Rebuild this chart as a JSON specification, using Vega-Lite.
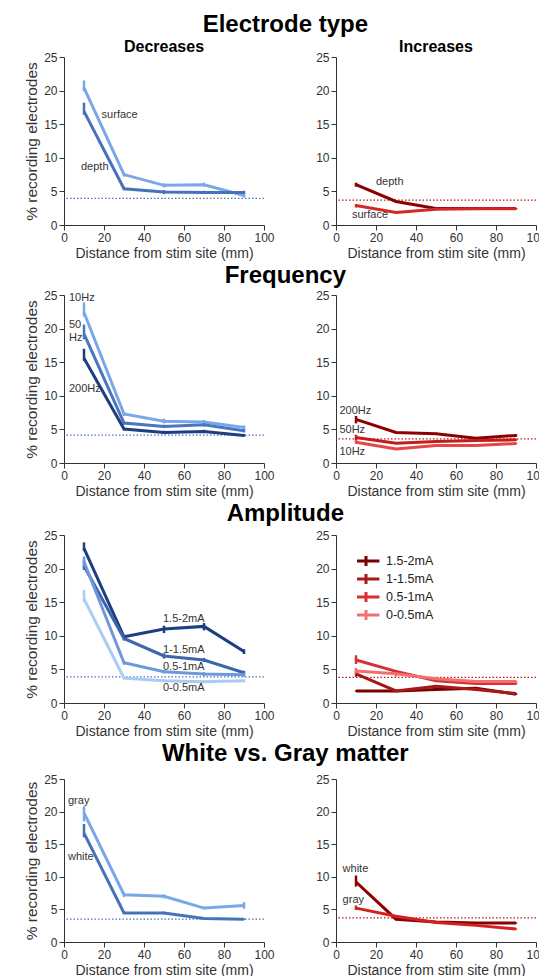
{
  "$schema": "https://vega.github.io/schema/vega-lite/v6.json",
  "padding": {"left": 24, "top": 13, "right": 0, "bottom": 0},
  "background": "white",
  "datasets": {
    "pts": [
      {"p": "e_dec", "s": "surface", "x": 10, "y": 20.4, "lo": 19.9, "hi": 21.5},
      {"p": "e_dec", "s": "surface", "x": 30, "y": 7.5, "lo": 7.2, "hi": 7.8},
      {"p": "e_dec", "s": "surface", "x": 50, "y": 5.9, "lo": 5.6, "hi": 6.2},
      {"p": "e_dec", "s": "surface", "x": 70, "y": 6.0, "lo": 5.7, "hi": 6.3},
      {"p": "e_dec", "s": "surface", "x": 90, "y": 4.4, "lo": 4.1, "hi": 4.7},
      {"p": "e_dec", "s": "depth", "x": 10, "y": 16.9, "lo": 16.4, "hi": 18.2},
      {"p": "e_dec", "s": "depth", "x": 30, "y": 5.4, "lo": 5.2, "hi": 5.6},
      {"p": "e_dec", "s": "depth", "x": 50, "y": 4.9, "lo": 4.6, "hi": 5.2},
      {"p": "e_dec", "s": "depth", "x": 70, "y": 4.85, "lo": 4.6, "hi": 5.1},
      {"p": "e_dec", "s": "depth", "x": 90, "y": 4.85, "lo": 4.6, "hi": 5.1},
      {"p": "e_inc", "s": "depth", "x": 10, "y": 6.0, "lo": 5.7, "hi": 6.3},
      {"p": "e_inc", "s": "depth", "x": 30, "y": 3.5, "lo": 3.4, "hi": 3.6},
      {"p": "e_inc", "s": "depth", "x": 50, "y": 2.45, "lo": 2.35, "hi": 2.55},
      {"p": "e_inc", "s": "depth", "x": 70, "y": 2.45, "lo": 2.35, "hi": 2.55},
      {"p": "e_inc", "s": "depth", "x": 90, "y": 2.45, "lo": 2.35, "hi": 2.55},
      {"p": "e_inc", "s": "surface", "x": 10, "y": 2.9, "lo": 2.6, "hi": 3.1},
      {"p": "e_inc", "s": "surface", "x": 30, "y": 1.85, "lo": 1.75, "hi": 1.95},
      {"p": "e_inc", "s": "surface", "x": 50, "y": 2.35, "lo": 2.25, "hi": 2.45},
      {"p": "e_inc", "s": "surface", "x": 70, "y": 2.4, "lo": 2.3, "hi": 2.5},
      {"p": "e_inc", "s": "surface", "x": 90, "y": 2.4, "lo": 2.3, "hi": 2.5},
      {"p": "f_dec", "s": "10Hz", "x": 10, "y": 22.4, "lo": 21.8, "hi": 23.9},
      {"p": "f_dec", "s": "10Hz", "x": 30, "y": 7.3, "lo": 7.0, "hi": 7.6},
      {"p": "f_dec", "s": "10Hz", "x": 50, "y": 6.2, "lo": 5.9, "hi": 6.6},
      {"p": "f_dec", "s": "10Hz", "x": 70, "y": 6.1, "lo": 5.8, "hi": 6.4},
      {"p": "f_dec", "s": "10Hz", "x": 90, "y": 5.3, "lo": 4.9, "hi": 5.6},
      {"p": "f_dec", "s": "50Hz", "x": 10, "y": 19.2, "lo": 18.4, "hi": 20.6},
      {"p": "f_dec", "s": "50Hz", "x": 30, "y": 5.95, "lo": 5.7, "hi": 6.2},
      {"p": "f_dec", "s": "50Hz", "x": 50, "y": 5.45, "lo": 5.2, "hi": 5.7},
      {"p": "f_dec", "s": "50Hz", "x": 70, "y": 5.7, "lo": 5.45, "hi": 5.95},
      {"p": "f_dec", "s": "50Hz", "x": 90, "y": 4.8, "lo": 4.55, "hi": 5.05},
      {"p": "f_dec", "s": "200Hz", "x": 10, "y": 15.6, "lo": 15.2, "hi": 17.0},
      {"p": "f_dec", "s": "200Hz", "x": 30, "y": 5.05, "lo": 4.85, "hi": 5.25},
      {"p": "f_dec", "s": "200Hz", "x": 50, "y": 4.55, "lo": 4.3, "hi": 4.8},
      {"p": "f_dec", "s": "200Hz", "x": 70, "y": 4.7, "lo": 4.45, "hi": 4.95},
      {"p": "f_dec", "s": "200Hz", "x": 90, "y": 4.1, "lo": 3.9, "hi": 4.3},
      {"p": "f_inc", "s": "200Hz", "x": 10, "y": 6.5, "lo": 5.9, "hi": 7.0},
      {"p": "f_inc", "s": "200Hz", "x": 30, "y": 4.55, "lo": 4.4, "hi": 4.7},
      {"p": "f_inc", "s": "200Hz", "x": 50, "y": 4.35, "lo": 4.2, "hi": 4.5},
      {"p": "f_inc", "s": "200Hz", "x": 70, "y": 3.7, "lo": 3.55, "hi": 3.85},
      {"p": "f_inc", "s": "200Hz", "x": 90, "y": 4.1, "lo": 3.9, "hi": 4.3},
      {"p": "f_inc", "s": "50Hz", "x": 10, "y": 3.8, "lo": 3.4, "hi": 4.2},
      {"p": "f_inc", "s": "50Hz", "x": 30, "y": 2.95, "lo": 2.85, "hi": 3.05},
      {"p": "f_inc", "s": "50Hz", "x": 50, "y": 3.2, "lo": 3.1, "hi": 3.3},
      {"p": "f_inc", "s": "50Hz", "x": 70, "y": 3.35, "lo": 3.25, "hi": 3.45},
      {"p": "f_inc", "s": "50Hz", "x": 90, "y": 3.45, "lo": 3.3, "hi": 3.6},
      {"p": "f_inc", "s": "10Hz", "x": 10, "y": 3.1, "lo": 2.9, "hi": 3.4},
      {"p": "f_inc", "s": "10Hz", "x": 30, "y": 2.1, "lo": 2.0, "hi": 2.2},
      {"p": "f_inc", "s": "10Hz", "x": 50, "y": 2.6, "lo": 2.5, "hi": 2.7},
      {"p": "f_inc", "s": "10Hz", "x": 70, "y": 2.6, "lo": 2.5, "hi": 2.7},
      {"p": "f_inc", "s": "10Hz", "x": 90, "y": 2.9, "lo": 2.75, "hi": 3.05},
      {"p": "a_dec", "s": "1.5-2mA", "x": 10, "y": 23.0, "lo": 22.6, "hi": 23.9},
      {"p": "a_dec", "s": "1.5-2mA", "x": 30, "y": 9.85, "lo": 9.6, "hi": 10.1},
      {"p": "a_dec", "s": "1.5-2mA", "x": 50, "y": 11.0, "lo": 10.4, "hi": 11.5},
      {"p": "a_dec", "s": "1.5-2mA", "x": 70, "y": 11.4, "lo": 10.8, "hi": 11.9},
      {"p": "a_dec", "s": "1.5-2mA", "x": 90, "y": 7.65, "lo": 7.3, "hi": 8.0},
      {"p": "a_dec", "s": "1-1.5mA", "x": 10, "y": 20.4, "lo": 19.8, "hi": 21.2},
      {"p": "a_dec", "s": "1-1.5mA", "x": 30, "y": 9.6, "lo": 9.3, "hi": 9.9},
      {"p": "a_dec", "s": "1-1.5mA", "x": 50, "y": 7.0, "lo": 6.6, "hi": 7.4},
      {"p": "a_dec", "s": "1-1.5mA", "x": 70, "y": 6.4, "lo": 6.1, "hi": 6.7},
      {"p": "a_dec", "s": "1-1.5mA", "x": 90, "y": 4.5, "lo": 4.2, "hi": 4.8},
      {"p": "a_dec", "s": "0.5-1mA", "x": 10, "y": 21.0, "lo": 20.2, "hi": 21.8},
      {"p": "a_dec", "s": "0.5-1mA", "x": 30, "y": 6.0, "lo": 5.7, "hi": 6.3},
      {"p": "a_dec", "s": "0.5-1mA", "x": 50, "y": 4.65, "lo": 4.4, "hi": 4.9},
      {"p": "a_dec", "s": "0.5-1mA", "x": 70, "y": 4.3, "lo": 4.0, "hi": 4.6},
      {"p": "a_dec", "s": "0.5-1mA", "x": 90, "y": 4.2, "lo": 3.9, "hi": 4.5},
      {"p": "a_dec", "s": "0-0.5mA", "x": 10, "y": 15.5, "lo": 15.0, "hi": 16.8},
      {"p": "a_dec", "s": "0-0.5mA", "x": 30, "y": 3.7, "lo": 3.5, "hi": 3.9},
      {"p": "a_dec", "s": "0-0.5mA", "x": 50, "y": 3.3, "lo": 3.1, "hi": 3.5},
      {"p": "a_dec", "s": "0-0.5mA", "x": 70, "y": 3.15, "lo": 2.95, "hi": 3.35},
      {"p": "a_dec", "s": "0-0.5mA", "x": 90, "y": 3.3, "lo": 3.1, "hi": 3.5},
      {"p": "a_inc", "s": "1.5-2mA", "x": 10, "y": 1.8, "lo": 1.7, "hi": 1.9},
      {"p": "a_inc", "s": "1.5-2mA", "x": 30, "y": 1.8, "lo": 1.7, "hi": 1.9},
      {"p": "a_inc", "s": "1.5-2mA", "x": 50, "y": 2.0, "lo": 1.9, "hi": 2.1},
      {"p": "a_inc", "s": "1.5-2mA", "x": 70, "y": 2.2, "lo": 2.1, "hi": 2.3},
      {"p": "a_inc", "s": "1.5-2mA", "x": 90, "y": 1.3, "lo": 1.2, "hi": 1.4},
      {"p": "a_inc", "s": "1-1.5mA", "x": 10, "y": 4.35, "lo": 3.9, "hi": 4.9},
      {"p": "a_inc", "s": "1-1.5mA", "x": 30, "y": 1.8, "lo": 1.7, "hi": 1.9},
      {"p": "a_inc", "s": "1-1.5mA", "x": 50, "y": 2.5, "lo": 2.4, "hi": 2.6},
      {"p": "a_inc", "s": "1-1.5mA", "x": 70, "y": 2.0, "lo": 1.9, "hi": 2.1},
      {"p": "a_inc", "s": "1-1.5mA", "x": 90, "y": 1.4, "lo": 1.3, "hi": 1.5},
      {"p": "a_inc", "s": "0.5-1mA", "x": 10, "y": 6.4, "lo": 5.8, "hi": 7.1},
      {"p": "a_inc", "s": "0.5-1mA", "x": 30, "y": 4.7, "lo": 4.5, "hi": 4.9},
      {"p": "a_inc", "s": "0.5-1mA", "x": 50, "y": 3.3, "lo": 3.15, "hi": 3.45},
      {"p": "a_inc", "s": "0.5-1mA", "x": 70, "y": 2.9, "lo": 2.75, "hi": 3.05},
      {"p": "a_inc", "s": "0.5-1mA", "x": 90, "y": 2.9, "lo": 2.75, "hi": 3.05},
      {"p": "a_inc", "s": "0-0.5mA", "x": 10, "y": 4.75, "lo": 4.3, "hi": 5.2},
      {"p": "a_inc", "s": "0-0.5mA", "x": 30, "y": 4.35, "lo": 3.9, "hi": 4.9},
      {"p": "a_inc", "s": "0-0.5mA", "x": 50, "y": 3.6, "lo": 3.45, "hi": 3.75},
      {"p": "a_inc", "s": "0-0.5mA", "x": 70, "y": 3.2, "lo": 3.05, "hi": 3.35},
      {"p": "a_inc", "s": "0-0.5mA", "x": 90, "y": 3.2, "lo": 3.05, "hi": 3.35},
      {"p": "w_dec", "s": "gray", "x": 10, "y": 19.8, "lo": 18.5, "hi": 20.8},
      {"p": "w_dec", "s": "gray", "x": 30, "y": 7.25, "lo": 6.9, "hi": 7.6},
      {"p": "w_dec", "s": "gray", "x": 50, "y": 7.0, "lo": 6.7, "hi": 7.3},
      {"p": "w_dec", "s": "gray", "x": 70, "y": 5.2, "lo": 5.0, "hi": 5.4},
      {"p": "w_dec", "s": "gray", "x": 90, "y": 5.6, "lo": 5.1, "hi": 6.1},
      {"p": "w_dec", "s": "white", "x": 10, "y": 16.7, "lo": 16.05, "hi": 18.1},
      {"p": "w_dec", "s": "white", "x": 30, "y": 4.45, "lo": 4.3, "hi": 4.6},
      {"p": "w_dec", "s": "white", "x": 50, "y": 4.45, "lo": 4.25, "hi": 4.65},
      {"p": "w_dec", "s": "white", "x": 70, "y": 3.6, "lo": 3.5, "hi": 3.7},
      {"p": "w_dec", "s": "white", "x": 90, "y": 3.5, "lo": 3.4, "hi": 3.6},
      {"p": "w_inc", "s": "white", "x": 10, "y": 9.2, "lo": 8.5, "hi": 10.2},
      {"p": "w_inc", "s": "white", "x": 30, "y": 3.5, "lo": 3.4, "hi": 3.6},
      {"p": "w_inc", "s": "white", "x": 50, "y": 3.05, "lo": 2.95, "hi": 3.15},
      {"p": "w_inc", "s": "white", "x": 70, "y": 2.9, "lo": 2.8, "hi": 3.0},
      {"p": "w_inc", "s": "white", "x": 90, "y": 2.9, "lo": 2.8, "hi": 3.0},
      {"p": "w_inc", "s": "gray", "x": 10, "y": 5.2, "lo": 4.9, "hi": 5.6},
      {"p": "w_inc", "s": "gray", "x": 30, "y": 3.95, "lo": 3.85, "hi": 4.05},
      {"p": "w_inc", "s": "gray", "x": 50, "y": 3.0, "lo": 2.9, "hi": 3.1},
      {"p": "w_inc", "s": "gray", "x": 70, "y": 2.55, "lo": 2.45, "hi": 2.65},
      {"p": "w_inc", "s": "gray", "x": 90, "y": 2.0, "lo": 1.9, "hi": 2.1}
    ],
    "refs": [
      {"p": "e_dec", "v": 3.96},
      {"p": "e_inc", "v": 3.7},
      {"p": "f_dec", "v": 4.15},
      {"p": "f_inc", "v": 3.6},
      {"p": "a_dec", "v": 3.9},
      {"p": "a_inc", "v": 3.8},
      {"p": "w_dec", "v": 3.5},
      {"p": "w_inc", "v": 3.7}
    ],
    "labs": [
      {"p": "e_dec", "t": "surface", "x": 18.8, "y": 16.3},
      {"p": "e_dec", "t": "depth", "x": 8.5, "y": 8.6},
      {"p": "e_inc", "t": "depth", "x": 20, "y": 6.4},
      {"p": "e_inc", "t": "surface", "x": 8, "y": 1.45},
      {"p": "f_dec", "t": "10Hz", "x": 2.5, "y": 24.6},
      {"p": "f_dec", "t": "50", "x": 2.5, "y": 20.5},
      {"p": "f_dec", "t": "Hz", "x": 2.5, "y": 18.6},
      {"p": "f_dec", "t": "200Hz", "x": 2.5, "y": 11.0},
      {"p": "f_inc", "t": "200Hz", "x": 1.7, "y": 7.8},
      {"p": "f_inc", "t": "50Hz", "x": 1.7, "y": 4.95},
      {"p": "f_inc", "t": "10Hz", "x": 1.7, "y": 1.6},
      {"p": "a_dec", "t": "1.5-2mA", "x": 49.5, "y": 12.5},
      {"p": "a_dec", "t": "1-1.5mA", "x": 49.5, "y": 7.9},
      {"p": "a_dec", "t": "0.5-1mA", "x": 49.5, "y": 5.3},
      {"p": "a_dec", "t": "0-0.5mA", "x": 49.5, "y": 2.2},
      {"p": "w_dec", "t": "gray", "x": 2, "y": 21.7},
      {"p": "w_dec", "t": "white", "x": 2, "y": 13.1},
      {"p": "w_inc", "t": "white", "x": 3.3, "y": 11.2},
      {"p": "w_inc", "t": "gray", "x": 3.3, "y": 6.4}
    ]
  },
  "config": {
    "font": "Liberation Sans",
    "view": {"stroke": null},
    "axis": {"grid": false, "domainColor": "#333", "tickColor": "#333", "labelColor": "#333", "titleColor": "#333", "labelFontSize": 12, "tickSize": 5, "labelPadding": 2, "titleFontWeight": "normal", "labelFlush": false, "labelOverlap": false},
    "axisX": {"titleFontSize": 14, "titlePadding": 3},
    "axisY": {"titleFontSize": 15.5, "titlePadding": 4},
    "title": {"font": "Liberation Sans", "fontWeight": "bold", "color": "#000"}
  },
  "resolve": {"scale": {"color": "independent"}, "legend": {"color": "independent"}},
  "spacing": 4,
  "vconcat": [
    {
      "title": {"text": "Electrode type", "fontSize": 24, "anchor": "middle", "offset": 2},
      "spacing": 40,
      "resolve": {"scale": {"color": "independent"}, "legend": {"color": "independent"}},
      "hconcat": [
        {
          "width": 200, "height": 168,
          "title": {"text": "Decreases", "fontSize": 16, "offset": -4},
          "layer": [
            {"data": {"name": "refs"}, "transform": [{"filter": "datum.p == 'e_dec'"}], "mark": {"type": "rule", "strokeDash": [1.5, 2], "strokeWidth": 1.2, "color": "#4a72c0"}, "encoding": {"y": {"field": "v", "type": "quantitative", "scale": {"domain": [0, 25], "nice": false}, "axis": {"values": [0, 5, 10, 15, 20, 25], "title": "% recording electrodes", "labelOverlap": false}}}},
            {"data": {"name": "pts"}, "transform": [{"filter": "datum.p == 'e_dec'"}], "mark": {"type": "rule", "strokeWidth": 2.5}, "encoding": {"x": {"field": "x", "type": "quantitative", "scale": {"domain": [0, 100], "nice": false}, "axis": {"values": [0, 20, 40, 60, 80, 100], "title": "Distance from stim site (mm)", "labelOverlap": false, "labelFlush": false}}, "y": {"field": "lo", "type": "quantitative", "scale": {"domain": [0, 25], "nice": false}, "axis": {"values": [0, 5, 10, 15, 20, 25], "title": "% recording electrodes", "labelOverlap": false}}, "y2": {"field": "hi"}, "color": {"field": "s", "type": "nominal", "scale": {"domain": ["surface", "depth"], "range": ["#7aa7e9", "#4772ba"]}, "legend": null}}},
            {"data": {"name": "pts"}, "transform": [{"filter": "datum.p == 'e_dec'"}], "mark": {"type": "line", "strokeWidth": 3}, "encoding": {"x": {"field": "x", "type": "quantitative", "scale": {"domain": [0, 100], "nice": false}, "axis": {"values": [0, 20, 40, 60, 80, 100], "title": "Distance from stim site (mm)", "labelOverlap": false, "labelFlush": false}}, "y": {"field": "y", "type": "quantitative", "scale": {"domain": [0, 25], "nice": false}, "axis": {"values": [0, 5, 10, 15, 20, 25], "title": "% recording electrodes", "labelOverlap": false}}, "color": {"field": "s", "type": "nominal", "legend": null}}},
            {"data": {"name": "labs"}, "transform": [{"filter": "datum.p == 'e_dec'"}], "mark": {"type": "text", "align": "left", "baseline": "middle", "fontSize": 11, "color": "#333"}, "encoding": {"x": {"field": "x", "type": "quantitative", "scale": {"domain": [0, 100], "nice": false}, "axis": {"values": [0, 20, 40, 60, 80, 100], "title": "Distance from stim site (mm)", "labelOverlap": false, "labelFlush": false}}, "y": {"field": "y", "type": "quantitative", "scale": {"domain": [0, 25], "nice": false}, "axis": {"values": [0, 5, 10, 15, 20, 25], "title": "% recording electrodes", "labelOverlap": false}}, "text": {"field": "t"}}}
          ]
        },
        {
          "width": 200, "height": 168,
          "title": {"text": "Increases", "fontSize": 16, "offset": -4},
          "layer": [
            {"data": {"name": "refs"}, "transform": [{"filter": "datum.p == 'e_inc'"}], "mark": {"type": "rule", "strokeDash": [1.5, 2], "strokeWidth": 1.2, "color": "#b02020"}, "encoding": {"y": {"field": "v", "type": "quantitative", "scale": {"domain": [0, 25], "nice": false}, "axis": {"values": [0, 5, 10, 15, 20, 25], "title": null, "labelOverlap": false}}}},
            {"data": {"name": "pts"}, "transform": [{"filter": "datum.p == 'e_inc'"}], "mark": {"type": "rule", "strokeWidth": 2.5}, "encoding": {"x": {"field": "x", "type": "quantitative", "scale": {"domain": [0, 100], "nice": false}, "axis": {"values": [0, 20, 40, 60, 80, 100], "title": "Distance from stim site (mm)", "labelOverlap": false, "labelFlush": false}}, "y": {"field": "lo", "type": "quantitative", "scale": {"domain": [0, 25], "nice": false}, "axis": {"values": [0, 5, 10, 15, 20, 25], "title": null, "labelOverlap": false}}, "y2": {"field": "hi"}, "color": {"field": "s", "type": "nominal", "scale": {"domain": ["depth", "surface"], "range": ["#8b0000", "#d42828"]}, "legend": null}}},
            {"data": {"name": "pts"}, "transform": [{"filter": "datum.p == 'e_inc'"}], "mark": {"type": "line", "strokeWidth": 3}, "encoding": {"x": {"field": "x", "type": "quantitative", "scale": {"domain": [0, 100], "nice": false}, "axis": {"values": [0, 20, 40, 60, 80, 100], "title": "Distance from stim site (mm)", "labelOverlap": false, "labelFlush": false}}, "y": {"field": "y", "type": "quantitative", "scale": {"domain": [0, 25], "nice": false}, "axis": {"values": [0, 5, 10, 15, 20, 25], "title": null, "labelOverlap": false}}, "color": {"field": "s", "type": "nominal", "legend": null}}},
            {"data": {"name": "labs"}, "transform": [{"filter": "datum.p == 'e_inc'"}], "mark": {"type": "text", "align": "left", "baseline": "middle", "fontSize": 11, "color": "#333"}, "encoding": {"x": {"field": "x", "type": "quantitative", "scale": {"domain": [0, 100], "nice": false}, "axis": {"values": [0, 20, 40, 60, 80, 100], "title": "Distance from stim site (mm)", "labelOverlap": false, "labelFlush": false}}, "y": {"field": "y", "type": "quantitative", "scale": {"domain": [0, 25], "nice": false}, "axis": {"values": [0, 5, 10, 15, 20, 25], "title": null, "labelOverlap": false}}, "text": {"field": "t"}}}
          ]
        }
      ]
    },
    {
      "title": {"text": "Frequency", "fontSize": 24, "anchor": "middle", "offset": 1},
      "spacing": 40,
      "resolve": {"scale": {"color": "independent"}, "legend": {"color": "independent"}},
      "hconcat": [
        {
          "width": 200, "height": 168,
          "layer": [
            {"data": {"name": "refs"}, "transform": [{"filter": "datum.p == 'f_dec'"}], "mark": {"type": "rule", "strokeDash": [1.5, 2], "strokeWidth": 1.2, "color": "#4a72c0"}, "encoding": {"y": {"field": "v", "type": "quantitative", "scale": {"domain": [0, 25], "nice": false}, "axis": {"values": [0, 5, 10, 15, 20, 25], "title": "% recording electrodes", "labelOverlap": false}}}},
            {"data": {"name": "pts"}, "transform": [{"filter": "datum.p == 'f_dec'"}], "mark": {"type": "rule", "strokeWidth": 2.5}, "encoding": {"x": {"field": "x", "type": "quantitative", "scale": {"domain": [0, 100], "nice": false}, "axis": {"values": [0, 20, 40, 60, 80, 100], "title": "Distance from stim site (mm)", "labelOverlap": false, "labelFlush": false}}, "y": {"field": "lo", "type": "quantitative", "scale": {"domain": [0, 25], "nice": false}, "axis": {"values": [0, 5, 10, 15, 20, 25], "title": "% recording electrodes", "labelOverlap": false}}, "y2": {"field": "hi"}, "color": {"field": "s", "type": "nominal", "scale": {"domain": ["10Hz", "50Hz", "200Hz"], "range": ["#7aa7e9", "#4a76c0", "#1d3e80"]}, "legend": null}}},
            {"data": {"name": "pts"}, "transform": [{"filter": "datum.p == 'f_dec'"}], "mark": {"type": "line", "strokeWidth": 3}, "encoding": {"x": {"field": "x", "type": "quantitative", "scale": {"domain": [0, 100], "nice": false}, "axis": {"values": [0, 20, 40, 60, 80, 100], "title": "Distance from stim site (mm)", "labelOverlap": false, "labelFlush": false}}, "y": {"field": "y", "type": "quantitative", "scale": {"domain": [0, 25], "nice": false}, "axis": {"values": [0, 5, 10, 15, 20, 25], "title": "% recording electrodes", "labelOverlap": false}}, "color": {"field": "s", "type": "nominal", "legend": null}}},
            {"data": {"name": "labs"}, "transform": [{"filter": "datum.p == 'f_dec'"}], "mark": {"type": "text", "align": "left", "baseline": "middle", "fontSize": 11, "color": "#333"}, "encoding": {"x": {"field": "x", "type": "quantitative", "scale": {"domain": [0, 100], "nice": false}, "axis": {"values": [0, 20, 40, 60, 80, 100], "title": "Distance from stim site (mm)", "labelOverlap": false, "labelFlush": false}}, "y": {"field": "y", "type": "quantitative", "scale": {"domain": [0, 25], "nice": false}, "axis": {"values": [0, 5, 10, 15, 20, 25], "title": "% recording electrodes", "labelOverlap": false}}, "text": {"field": "t"}}}
          ]
        },
        {
          "width": 200, "height": 168,
          "layer": [
            {"data": {"name": "refs"}, "transform": [{"filter": "datum.p == 'f_inc'"}], "mark": {"type": "rule", "strokeDash": [1.5, 2], "strokeWidth": 1.2, "color": "#b02020"}, "encoding": {"y": {"field": "v", "type": "quantitative", "scale": {"domain": [0, 25], "nice": false}, "axis": {"values": [0, 5, 10, 15, 20, 25], "title": null, "labelOverlap": false}}}},
            {"data": {"name": "pts"}, "transform": [{"filter": "datum.p == 'f_inc'"}], "mark": {"type": "rule", "strokeWidth": 2.5}, "encoding": {"x": {"field": "x", "type": "quantitative", "scale": {"domain": [0, 100], "nice": false}, "axis": {"values": [0, 20, 40, 60, 80, 100], "title": "Distance from stim site (mm)", "labelOverlap": false, "labelFlush": false}}, "y": {"field": "lo", "type": "quantitative", "scale": {"domain": [0, 25], "nice": false}, "axis": {"values": [0, 5, 10, 15, 20, 25], "title": null, "labelOverlap": false}}, "y2": {"field": "hi"}, "color": {"field": "s", "type": "nominal", "scale": {"domain": ["200Hz", "50Hz", "10Hz"], "range": ["#8b0000", "#c41c1c", "#e84646"]}, "legend": null}}},
            {"data": {"name": "pts"}, "transform": [{"filter": "datum.p == 'f_inc'"}], "mark": {"type": "line", "strokeWidth": 3}, "encoding": {"x": {"field": "x", "type": "quantitative", "scale": {"domain": [0, 100], "nice": false}, "axis": {"values": [0, 20, 40, 60, 80, 100], "title": "Distance from stim site (mm)", "labelOverlap": false, "labelFlush": false}}, "y": {"field": "y", "type": "quantitative", "scale": {"domain": [0, 25], "nice": false}, "axis": {"values": [0, 5, 10, 15, 20, 25], "title": null, "labelOverlap": false}}, "color": {"field": "s", "type": "nominal", "legend": null}}},
            {"data": {"name": "labs"}, "transform": [{"filter": "datum.p == 'f_inc'"}], "mark": {"type": "text", "align": "left", "baseline": "middle", "fontSize": 11, "color": "#333"}, "encoding": {"x": {"field": "x", "type": "quantitative", "scale": {"domain": [0, 100], "nice": false}, "axis": {"values": [0, 20, 40, 60, 80, 100], "title": "Distance from stim site (mm)", "labelOverlap": false, "labelFlush": false}}, "y": {"field": "y", "type": "quantitative", "scale": {"domain": [0, 25], "nice": false}, "axis": {"values": [0, 5, 10, 15, 20, 25], "title": null, "labelOverlap": false}}, "text": {"field": "t"}}}
          ]
        }
      ]
    },
    {
      "title": {"text": "Amplitude", "fontSize": 24, "anchor": "middle", "offset": 3},
      "spacing": 40,
      "resolve": {"scale": {"color": "independent"}, "legend": {"color": "independent"}},
      "hconcat": [
        {
          "width": 200, "height": 168,
          "layer": [
            {"data": {"name": "refs"}, "transform": [{"filter": "datum.p == 'a_dec'"}], "mark": {"type": "rule", "strokeDash": [1.5, 2], "strokeWidth": 1.2, "color": "#4a72c0"}, "encoding": {"y": {"field": "v", "type": "quantitative", "scale": {"domain": [0, 25], "nice": false}, "axis": {"values": [0, 5, 10, 15, 20, 25], "title": "% recording electrodes", "labelOverlap": false}}}},
            {"data": {"name": "pts"}, "transform": [{"filter": "datum.p == 'a_dec'"}], "mark": {"type": "rule", "strokeWidth": 2.5}, "encoding": {"x": {"field": "x", "type": "quantitative", "scale": {"domain": [0, 100], "nice": false}, "axis": {"values": [0, 20, 40, 60, 80, 100], "title": "Distance from stim site (mm)", "labelOverlap": false, "labelFlush": false}}, "y": {"field": "lo", "type": "quantitative", "scale": {"domain": [0, 25], "nice": false}, "axis": {"values": [0, 5, 10, 15, 20, 25], "title": "% recording electrodes", "labelOverlap": false}}, "y2": {"field": "hi"}, "color": {"field": "s", "type": "nominal", "scale": {"domain": ["1.5-2mA", "1-1.5mA", "0.5-1mA", "0-0.5mA"], "range": ["#1d3e80", "#3d65ad", "#6f98da", "#a9cbf6"]}, "legend": null}}},
            {"data": {"name": "pts"}, "transform": [{"filter": "datum.p == 'a_dec'"}], "mark": {"type": "line", "strokeWidth": 3}, "encoding": {"x": {"field": "x", "type": "quantitative", "scale": {"domain": [0, 100], "nice": false}, "axis": {"values": [0, 20, 40, 60, 80, 100], "title": "Distance from stim site (mm)", "labelOverlap": false, "labelFlush": false}}, "y": {"field": "y", "type": "quantitative", "scale": {"domain": [0, 25], "nice": false}, "axis": {"values": [0, 5, 10, 15, 20, 25], "title": "% recording electrodes", "labelOverlap": false}}, "color": {"field": "s", "type": "nominal", "legend": null}}},
            {"data": {"name": "labs"}, "transform": [{"filter": "datum.p == 'a_dec'"}], "mark": {"type": "text", "align": "left", "baseline": "middle", "fontSize": 11, "color": "#333"}, "encoding": {"x": {"field": "x", "type": "quantitative", "scale": {"domain": [0, 100], "nice": false}, "axis": {"values": [0, 20, 40, 60, 80, 100], "title": "Distance from stim site (mm)", "labelOverlap": false, "labelFlush": false}}, "y": {"field": "y", "type": "quantitative", "scale": {"domain": [0, 25], "nice": false}, "axis": {"values": [0, 5, 10, 15, 20, 25], "title": "% recording electrodes", "labelOverlap": false}}, "text": {"field": "t"}}}
          ]
        },
        {
          "width": 200, "height": 168,
          "layer": [
            {"data": {"name": "refs"}, "transform": [{"filter": "datum.p == 'a_inc'"}], "mark": {"type": "rule", "strokeDash": [1.5, 2], "strokeWidth": 1.2, "color": "#b02020"}, "encoding": {"y": {"field": "v", "type": "quantitative", "scale": {"domain": [0, 25], "nice": false}, "axis": {"values": [0, 5, 10, 15, 20, 25], "title": null, "labelOverlap": false}}}},
            {"data": {"name": "pts"}, "transform": [{"filter": "datum.p == 'a_inc'"}], "mark": {"type": "rule", "strokeWidth": 2.5}, "encoding": {"x": {"field": "x", "type": "quantitative", "scale": {"domain": [0, 100], "nice": false}, "axis": {"values": [0, 20, 40, 60, 80, 100], "title": "Distance from stim site (mm)", "labelOverlap": false, "labelFlush": false}}, "y": {"field": "lo", "type": "quantitative", "scale": {"domain": [0, 25], "nice": false}, "axis": {"values": [0, 5, 10, 15, 20, 25], "title": null, "labelOverlap": false}}, "y2": {"field": "hi"}, "color": {"field": "s", "type": "nominal", "scale": {"domain": ["1.5-2mA", "1-1.5mA", "0.5-1mA", "0-0.5mA"], "range": ["#7a0000", "#a81818", "#d63030", "#f47070"]}, "legend": {"orient": "none", "legendX": 21, "legendY": 17, "title": null, "padding": 0, "symbolType": "M-1.9,0H1.9M0,-0.7V0.7", "symbolSize": 200, "symbolStrokeWidth": 3, "symbolFillColor": "transparent", "labelFontSize": 12.5, "labelColor": "#222", "labelOffset": 11, "rowPadding": 0, "clipHeight": 18}}}},
            {"data": {"name": "pts"}, "transform": [{"filter": "datum.p == 'a_inc'"}], "mark": {"type": "line", "strokeWidth": 3}, "encoding": {"x": {"field": "x", "type": "quantitative", "scale": {"domain": [0, 100], "nice": false}, "axis": {"values": [0, 20, 40, 60, 80, 100], "title": "Distance from stim site (mm)", "labelOverlap": false, "labelFlush": false}}, "y": {"field": "y", "type": "quantitative", "scale": {"domain": [0, 25], "nice": false}, "axis": {"values": [0, 5, 10, 15, 20, 25], "title": null, "labelOverlap": false}}, "color": {"field": "s", "type": "nominal", "legend": {"orient": "none", "legendX": 21, "legendY": 17, "title": null, "padding": 0, "symbolType": "M-1.9,0H1.9M0,-0.7V0.7", "symbolSize": 200, "symbolStrokeWidth": 3, "symbolFillColor": "transparent", "labelFontSize": 12.5, "labelColor": "#222", "labelOffset": 11, "rowPadding": 0, "clipHeight": 18}}}}
          ]
        }
      ]
    },
    {
      "title": {"text": "White vs. Gray matter", "fontSize": 24, "anchor": "middle", "offset": 7},
      "spacing": 40,
      "resolve": {"scale": {"color": "independent"}, "legend": {"color": "independent"}},
      "hconcat": [
        {
          "width": 200, "height": 163,
          "layer": [
            {"data": {"name": "refs"}, "transform": [{"filter": "datum.p == 'w_dec'"}], "mark": {"type": "rule", "strokeDash": [1.5, 2], "strokeWidth": 1.2, "color": "#4a72c0"}, "encoding": {"y": {"field": "v", "type": "quantitative", "scale": {"domain": [0, 25], "nice": false}, "axis": {"values": [0, 5, 10, 15, 20, 25], "title": "% recording electrodes", "labelOverlap": false}}}},
            {"data": {"name": "pts"}, "transform": [{"filter": "datum.p == 'w_dec'"}], "mark": {"type": "rule", "strokeWidth": 2.5}, "encoding": {"x": {"field": "x", "type": "quantitative", "scale": {"domain": [0, 100], "nice": false}, "axis": {"values": [0, 20, 40, 60, 80, 100], "title": "Distance from stim site (mm)", "labelOverlap": false, "labelFlush": false}}, "y": {"field": "lo", "type": "quantitative", "scale": {"domain": [0, 25], "nice": false}, "axis": {"values": [0, 5, 10, 15, 20, 25], "title": "% recording electrodes", "labelOverlap": false}}, "y2": {"field": "hi"}, "color": {"field": "s", "type": "nominal", "scale": {"domain": ["gray", "white"], "range": ["#7aa7e9", "#4772ba"]}, "legend": null}}},
            {"data": {"name": "pts"}, "transform": [{"filter": "datum.p == 'w_dec'"}], "mark": {"type": "line", "strokeWidth": 3}, "encoding": {"x": {"field": "x", "type": "quantitative", "scale": {"domain": [0, 100], "nice": false}, "axis": {"values": [0, 20, 40, 60, 80, 100], "title": "Distance from stim site (mm)", "labelOverlap": false, "labelFlush": false}}, "y": {"field": "y", "type": "quantitative", "scale": {"domain": [0, 25], "nice": false}, "axis": {"values": [0, 5, 10, 15, 20, 25], "title": "% recording electrodes", "labelOverlap": false}}, "color": {"field": "s", "type": "nominal", "legend": null}}},
            {"data": {"name": "labs"}, "transform": [{"filter": "datum.p == 'w_dec'"}], "mark": {"type": "text", "align": "left", "baseline": "middle", "fontSize": 11, "color": "#333"}, "encoding": {"x": {"field": "x", "type": "quantitative", "scale": {"domain": [0, 100], "nice": false}, "axis": {"values": [0, 20, 40, 60, 80, 100], "title": "Distance from stim site (mm)", "labelOverlap": false, "labelFlush": false}}, "y": {"field": "y", "type": "quantitative", "scale": {"domain": [0, 25], "nice": false}, "axis": {"values": [0, 5, 10, 15, 20, 25], "title": "% recording electrodes", "labelOverlap": false}}, "text": {"field": "t"}}}
          ]
        },
        {
          "width": 200, "height": 163,
          "layer": [
            {"data": {"name": "refs"}, "transform": [{"filter": "datum.p == 'w_inc'"}], "mark": {"type": "rule", "strokeDash": [1.5, 2], "strokeWidth": 1.2, "color": "#b02020"}, "encoding": {"y": {"field": "v", "type": "quantitative", "scale": {"domain": [0, 25], "nice": false}, "axis": {"values": [0, 5, 10, 15, 20, 25], "title": null, "labelOverlap": false}}}},
            {"data": {"name": "pts"}, "transform": [{"filter": "datum.p == 'w_inc'"}], "mark": {"type": "rule", "strokeWidth": 2.5}, "encoding": {"x": {"field": "x", "type": "quantitative", "scale": {"domain": [0, 100], "nice": false}, "axis": {"values": [0, 20, 40, 60, 80, 100], "title": "Distance from stim site (mm)", "labelOverlap": false, "labelFlush": false}}, "y": {"field": "lo", "type": "quantitative", "scale": {"domain": [0, 25], "nice": false}, "axis": {"values": [0, 5, 10, 15, 20, 25], "title": null, "labelOverlap": false}}, "y2": {"field": "hi"}, "color": {"field": "s", "type": "nominal", "scale": {"domain": ["white", "gray"], "range": ["#8b0000", "#d42020"]}, "legend": null}}},
            {"data": {"name": "pts"}, "transform": [{"filter": "datum.p == 'w_inc'"}], "mark": {"type": "line", "strokeWidth": 3}, "encoding": {"x": {"field": "x", "type": "quantitative", "scale": {"domain": [0, 100], "nice": false}, "axis": {"values": [0, 20, 40, 60, 80, 100], "title": "Distance from stim site (mm)", "labelOverlap": false, "labelFlush": false}}, "y": {"field": "y", "type": "quantitative", "scale": {"domain": [0, 25], "nice": false}, "axis": {"values": [0, 5, 10, 15, 20, 25], "title": null, "labelOverlap": false}}, "color": {"field": "s", "type": "nominal", "legend": null}}},
            {"data": {"name": "labs"}, "transform": [{"filter": "datum.p == 'w_inc'"}], "mark": {"type": "text", "align": "left", "baseline": "middle", "fontSize": 11, "color": "#333"}, "encoding": {"x": {"field": "x", "type": "quantitative", "scale": {"domain": [0, 100], "nice": false}, "axis": {"values": [0, 20, 40, 60, 80, 100], "title": "Distance from stim site (mm)", "labelOverlap": false, "labelFlush": false}}, "y": {"field": "y", "type": "quantitative", "scale": {"domain": [0, 25], "nice": false}, "axis": {"values": [0, 5, 10, 15, 20, 25], "title": null, "labelOverlap": false}}, "text": {"field": "t"}}}
          ]
        }
      ]
    }
  ]
}
